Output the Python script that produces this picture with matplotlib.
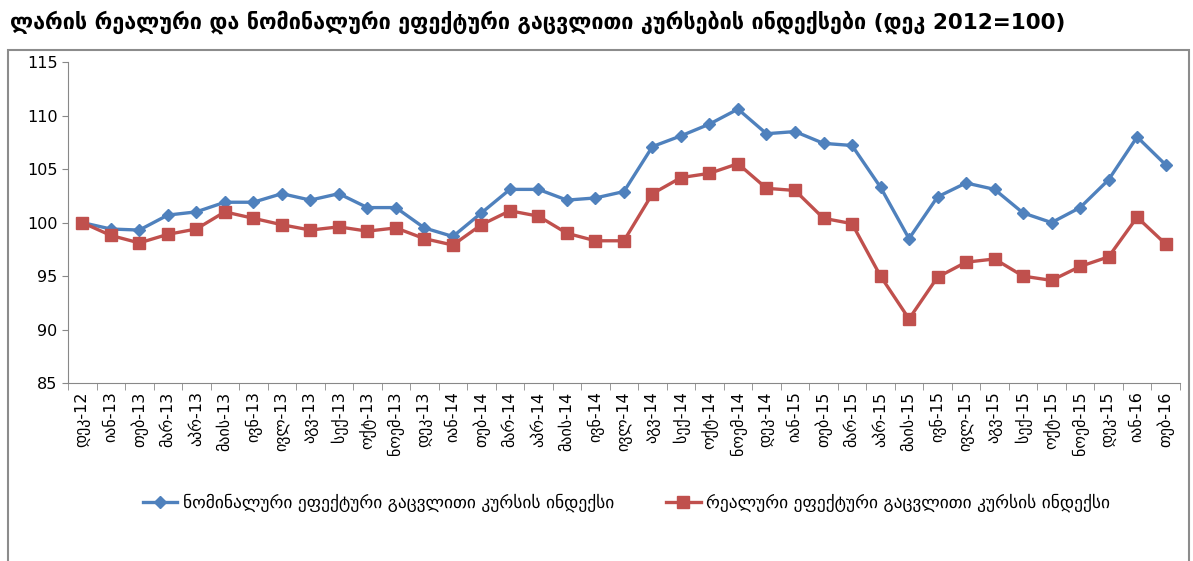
import matplotlib
matplotlib.use("Agg")
import matplotlib.pyplot as plt
import matplotlib.patches as mpatches

plt.rcParams["font.family"] = ["DejaVu Sans"]

# ── data ──────────────────────────────────────────────────────────
MONTHS = ["დეკ-12",
          "იან-13", "თებ-13", "მარ-13", "აპრ-13", "მაის-13", "ივნ-13",
          "ივლ-13", "აგვ-13", "სექ-13", "ოქტ-13", "ნოემ-13", "დეკ-13",
          "იან-14", "თებ-14", "მარ-14", "აპრ-14", "მაის-14", "ივნ-14",
          "ივლ-14", "აგვ-14", "სექ-14", "ოქტ-14", "ნოემ-14", "დეკ-14",
          "იან-15", "თებ-15", "მარ-15", "აპრ-15", "მაის-15", "ივნ-15",
          "ივლ-15", "აგვ-15", "სექ-15", "ოქტ-15", "ნოემ-15", "დეკ-15",
          "იან-16", "თებ-16"]

NOMINAL = [100.0, 99.4, 99.3, 100.7, 101.0, 101.9, 101.9, 102.7, 102.1, 102.7,
           101.4, 101.4, 99.5, 98.7, 100.9, 103.1, 103.1, 102.1, 102.3, 102.9,
           107.1, 108.1, 109.2, 110.6, 108.3, 108.5, 107.4, 107.2, 103.3, 98.5,
           102.4, 103.7, 103.1, 100.9, 100.0, 101.4, 104.0, 108.0, 105.4]

REAL = [100.0, 98.8, 98.1, 98.9, 99.4, 101.0, 100.4, 99.8, 99.3, 99.6,
        99.2, 99.5, 98.5, 97.9, 99.8, 101.1, 100.6, 99.0, 98.3, 98.3,
        102.7, 104.2, 104.6, 105.5, 103.2, 103.0, 100.4, 99.9, 95.0, 91.0,
        94.9, 96.3, 96.6, 95.0, 94.6, 95.9, 96.8, 100.5, 98.0]

TITLE = "ლარის რეალური და ნომინალური ეფექტური გაცვლითი კურსების ინდექსები (დეკ 2012=100)"
LBL_NOM = "ნომინალური ეფექტური გაცვლითი კურსის ინდექსი"
LBL_REAL = "რეალური ეფექტური გაცვლითი კურსის ინდექსი"

BLUE = "#4F81BD"
RED = "#C0504D"


def main():
    fig = plt.figure(figsize=(11.93, 5.61), dpi=100)
    ax = fig.add_axes([0.057, 0.317, 0.932, 0.5725])

    x = list(range(len(MONTHS)))
    ax.plot(x, NOMINAL, color=BLUE, lw=2.4, marker="D", ms=6.5, label=LBL_NOM)
    ax.plot(x, REAL, color=RED, lw=2.4, marker="s", ms=8, label=LBL_REAL)

    ax.set_xlim(-0.5, len(MONTHS) - 0.5)
    ax.set_ylim(85, 115)
    ax.set_yticks(range(85, 116, 5))
    ax.tick_params(axis="y", labelsize=11.5, length=4, color="#888888")

    ax.set_xticks(x)
    ax.set_xticklabels(MONTHS, rotation=90, fontsize=11.5)
    ax.set_xticks([i - 0.5 for i in range(len(MONTHS) + 1)], minor=True)
    ax.tick_params(axis="x", which="major", length=0, pad=6)
    ax.tick_params(axis="x", which="minor", length=5, color="#888888")

    for s in ["top", "right"]:
        ax.spines[s].set_visible(False)
    for s in ["left", "bottom"]:
        ax.spines[s].set_color("#888888")

    fig.legend(loc="center", bbox_to_anchor=(0.525, 0.103), ncol=2,
               frameon=False, fontsize=12.5, handlelength=2.0,
               columnspacing=3.0, handletextpad=0.3)

    # outer frame around chart area
    fig.patches.append(mpatches.Rectangle((0.007, -0.01), 0.99, 0.921,
                                          transform=fig.transFigure,
                                          fill=False, ec="#8c8c8c", lw=1.5))

    fig.text(0.008, 0.96, TITLE, fontsize=15.5, fontweight="bold", va="center")

    fig.savefig("out.png", dpi=100)
    plt.close(fig)


if __name__ == "__main__":
    main()
